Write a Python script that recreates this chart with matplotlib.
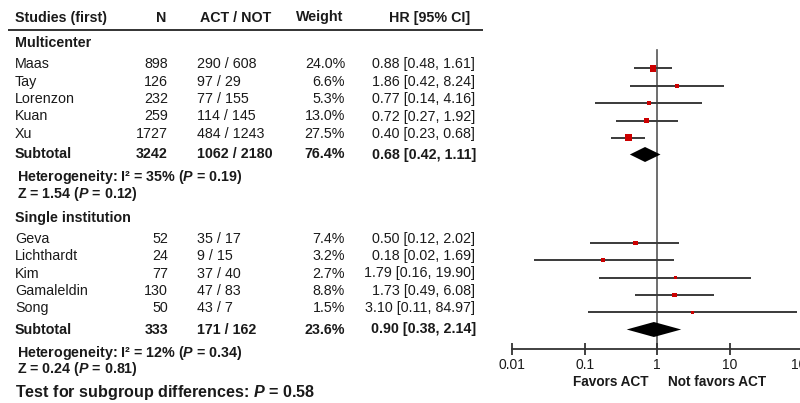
import numpy as np
import matplotlib
matplotlib.use('Agg')
import matplotlib.pyplot as plt

plt.rcParams['font.family'] = ['Liberation Sans', 'DejaVu Sans']
plt.rcParams['mathtext.fontset'] = 'custom'
plt.rcParams['mathtext.rm'] = 'Liberation Sans'
plt.rcParams['mathtext.bf'] = 'Liberation Sans:bold'
plt.rcParams['mathtext.it'] = 'Liberation Sans:italic'
plt.rcParams['mathtext.bfit'] = 'Liberation Sans:italic:bold'

# ---------------------------------------------------------------- data
mc_names = ['Maas', 'Tay', 'Lorenzon', 'Kuan', 'Xu']
mc_n = [898, 126, 232, 259, 1727]
mc_act = [290, 97, 77, 114, 484]
mc_not = [608, 29, 155, 145, 1243]
mc_weight = [24.0, 6.6, 5.3, 13.0, 27.5]
mc_hr = [0.88, 1.86, 0.77, 0.72, 0.40]
mc_lo = [0.48, 0.42, 0.14, 0.27, 0.23]
mc_hi = [1.61, 8.24, 4.16, 1.92, 0.68]

si_names = ['Geva', 'Lichthardt', 'Kim', 'Gamaleldin', 'Song']
si_n = [52, 24, 77, 130, 50]
si_act = [35, 9, 37, 47, 43]
si_not = [17, 15, 40, 83, 7]
si_weight = [7.4, 3.2, 2.7, 8.8, 1.5]
si_hr = [0.50, 0.18, 1.79, 1.73, 3.10]
si_lo = [0.12, 0.02, 0.16, 0.49, 0.11]
si_hi = [2.02, 1.69, 19.90, 6.08, 84.97]

# subtotals: n, act, not, weight, hr, lo, hi
mc_sub = [3242, 1062, 2180, 76.4, 0.68, 0.42, 1.11]
si_sub = [333, 171, 162, 23.6, 0.90, 0.38, 2.14]

mc_het = ['Heterogeneity: I\u00b2 = 35% ($\\mathbfit{P}$ = 0.19)', 'Z = 1.54 ($\\mathbfit{P}$ = 0.12)']
si_het = ['Heterogeneity: I\u00b2 = 12% ($\\mathbfit{P}$ = 0.34)', 'Z = 0.24 ($\\mathbfit{P}$ = 0.81)']
test_txt = 'Test for subgroup differences: $\\mathbfit{P}$ = 0.58'

xticks = [0.01, 0.1, 1, 10, 100]
xtick_labels = ['0.01', '0.1', '1', '10', '100']

# ---------------------------------------------------------------- layout (pixels from top)
W, H = 800, 403
step = 17.4
mc_y0, si_y0 = 68.3, 242.7
mc_suby, si_suby = 154.5, 329.5
txt_off = -4.0
axis_y = 348.7
fs = 10.3
tc = '#1a1a1a'

fig = plt.figure(figsize=(W / 100, H / 100), dpi=100)
ax_t = fig.add_axes([0, 0, 1, 1])
ax_t.set_xlim(0, W)
ax_t.set_ylim(H, 0)
ax_t.axis('off')

# forest axes: 0.01 at x=512 px, one decade = 72.6 px
x0, dec = 512, 72.6
ax_f = fig.add_axes([x0 / W, 0, 4 * dec / W, 1])
ax_f.set_xscale('log')
ax_f.set_xlim(0.01, 100)
ax_f.set_ylim(H, 0)
ax_f.patch.set_visible(False)
for s in ['top', 'left', 'right']:
    ax_f.spines[s].set_visible(False)
ax_f.spines['bottom'].set_position(('data', axis_y))
ax_f.spines['bottom'].set_linewidth(1.3)
ax_f.spines['bottom'].set_color('#333333')
ax_f.set_yticks([])
ax_f.set_xticks(xticks)
ax_f.set_xticklabels(xtick_labels)
ax_f.minorticks_off()
ax_f.tick_params(axis='x', direction='inout', length=9, width=1.3, color='#333333',
                 labelsize=10, labelcolor=tc, pad=2)

# header
hy = 18
ax_t.text(15, hy, 'Studies (first)', ha='left', va='center', fontsize=fs, fontweight='bold', color=tc)
ax_t.text(161, hy, 'N', ha='center', va='center', fontsize=fs, fontweight='bold', color=tc)
ax_t.text(236, hy, 'ACT / NOT', ha='center', va='center', fontsize=fs, fontweight='bold', color=tc)
ax_t.text(320, hy - 1, 'Weight', ha='center', va='center', fontsize=fs, fontweight='bold', color=tc)
ax_t.text(430, hy, 'HR [95% CI]', ha='center', va='center', fontsize=fs, fontweight='bold', color=tc)
ax_t.plot([8, 483], [30, 30], color='#333333', lw=1.4, solid_capstyle='butt')


def draw_group(title, title_y, names, n, act, nt, weight, hr, lo, hi, y0, sub, suby, het):
    ax_t.text(15, title_y, title, ha='left', va='center', fontsize=fs, fontweight='bold', color=tc)
    ys = y0 + step * np.arange(len(names))
    for i, y in enumerate(ys):
        ty = y + txt_off
        ax_t.text(15, ty, names[i], ha='left', va='center', fontsize=fs, color=tc)
        ax_t.text(168, ty, str(n[i]), ha='right', va='center', fontsize=fs, color=tc)
        ax_t.text(197, ty, f'{act[i]} / {nt[i]}', ha='left', va='center', fontsize=fs, color=tc)
        ax_t.text(345, ty, f'{weight[i]:.1f}%', ha='right', va='center', fontsize=fs, color=tc)
        ax_t.text(475, ty, f'{hr[i]:.2f} [{lo[i]:.2f}, {hi[i]:.2f}]', ha='right', va='center',
                  fontsize=fs, color=tc)
        ax_f.plot([lo[i], hi[i]], [y, y], color='#3a3a3a', lw=1.4, solid_capstyle='butt', zorder=2)
    # square side in px grows with sqrt(weight)
    side_px = 1.5 + 1.05 * np.sqrt(np.array(weight))
    ax_f.scatter(hr, ys, marker='s', s=(side_px * 0.72) ** 2, color='#cc0000',
                 edgecolors='none', zorder=3)
    # subtotal row
    sn, sa, snt, sw, shr, slo, shi = sub
    ax_t.text(15, suby, 'Subtotal', ha='left', va='center', fontsize=fs, fontweight='bold', color=tc)
    ax_t.text(168, suby, str(sn), ha='right', va='center', fontsize=fs, fontweight='bold', color=tc)
    ax_t.text(197, suby, f'{sa} / {snt}', ha='left', va='center', fontsize=fs, fontweight='bold', color=tc)
    ax_t.text(345, suby, f'{sw:.1f}%', ha='right', va='center', fontsize=fs, fontweight='bold', color=tc)
    ax_t.text(476, suby, f'{shr:.2f} [{slo:.2f}, {shi:.2f}]', ha='right', va='center',
              fontsize=fs, fontweight='bold', color=tc)
    dh = 7.5
    ax_f.fill([slo, shr, shi, shr], [suby, suby - dh, suby, suby + dh], color='black', lw=0, zorder=3)
    ax_t.text(17, suby + 23, het[0], ha='left', va='center', fontsize=fs, fontweight='bold', color=tc)
    ax_t.text(17, suby + 39.5, het[1], ha='left', va='center', fontsize=fs, fontweight='bold', color=tc)


draw_group('Multicenter', 43, mc_names, mc_n, mc_act, mc_not, mc_weight, mc_hr, mc_lo, mc_hi,
           mc_y0, mc_sub, mc_suby, mc_het)
draw_group('Single institution', 218, si_names, si_n, si_act, si_not, si_weight, si_hr, si_lo, si_hi,
           si_y0, si_sub, si_suby, si_het)

ax_t.text(15, 393, test_txt, ha='left', va='center', fontsize=11.6, fontweight='bold', color=tc)

# line of no effect
ax_f.plot([1, 1], [50, axis_y], color='#555555', lw=1.2, zorder=1)

ax_f.text(0.766, 382.5, 'Favors ACT', ha='right', va='center', fontsize=9.8, fontweight='bold', color=tc)
ax_f.text(1.40, 382.5, 'Not favors ACT', ha='left', va='center', fontsize=9.8, fontweight='bold', color=tc)

fig.savefig('out.png', dpi=100)
